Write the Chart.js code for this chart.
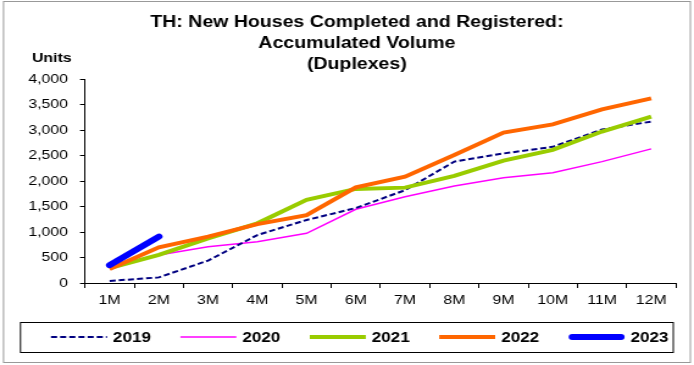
<!DOCTYPE html>
<html>
<head>
<meta charset="utf-8">
<script src="https://cdn.jsdelivr.net/npm/chart.js@4/dist/chart.umd.min.js"></script>
<style>
  html, body { margin: 0; padding: 0; background: #fff; overflow: hidden; }
  /* the drawing surface is laid out narrower and widened on screen */
  #c { display: block; width: 694px; height: 365px; }
</style>
</head>
<body>
<canvas id="c" width="569" height="365" style="width:694px;height:365px"></canvas>
<script>
// Months of the year (accumulated totals)
const months = ['1M','2M','3M','4M','5M','6M','7M','8M','9M','10M','11M','12M'];

// Accumulated duplex units by year
const y2019 = [40, 110, 440, 940, 1235, 1470, 1820, 2380, 2540, 2670, 3010, 3165];
const y2020 = [300, 550, 710, 810, 975, 1445, 1690, 1900, 2065, 2160, 2380, 2630];
const y2021 = [290, 550, 875, 1170, 1630, 1845, 1870, 2100, 2400, 2610, 2970, 3260];
const y2022 = [275, 700, 910, 1155, 1330, 1875, 2085, 2510, 2950, 3110, 3405, 3620];
const y2023 = [350, 910];

const yTicks = [0, 500, 1000, 1500, 2000, 2500, 3000, 3500, 4000];

const titleLines = ['TH: New Houses Completed and Registered:', 'Accumulated Volume', '(Duplexes)'];
const yAxisTitle = 'Units';

const FONT = '"Liberation Sans", Arial, Helvetica, sans-serif';
const W = 569; // internal drawing width

// Frame, title, axis caption and boxed legend
const decorations = {
  id: 'decorations',
  afterDraw(chart) {
    const ctx = chart.ctx;
    ctx.save();
    // outer frame
    ctx.strokeStyle = '#999999';
    ctx.lineWidth = 1;
    ctx.strokeRect(2.9, 1.5, 563.1, 361);

    // title
    ctx.fillStyle = '#000';
    ctx.font = 'bold 16px ' + FONT;
    ctx.textAlign = 'center';
    ctx.textBaseline = 'alphabetic';
    const ty = [27, 48, 69];
    titleLines.forEach((t, i) => ctx.fillText(t, 292.6, ty[i]));

    // axis caption
    ctx.font = 'bold 13px ' + FONT;
    ctx.textAlign = 'left';
    ctx.fillText(yAxisTitle, 26.2, 62);

    // legend box
    ctx.strokeStyle = '#000';
    ctx.lineWidth = 1;
    ctx.strokeRect(16.8, 322.5, 535.2, 30);
    const ly = 337;
    chart.data.datasets.forEach((ds, i) => {
      const x0 = 41.8 + 106.1 * i;
      ctx.save();
      ctx.strokeStyle = ds.borderColor;
      ctx.lineWidth = ds.borderWidth;
      ctx.lineCap = ds.borderCapStyle || 'butt';
      ctx.setLineDash(ds.borderDash || []);
      const inset = ds.borderCapStyle === 'round' ? ds.borderWidth / 2 : 0;
      ctx.beginPath();
      ctx.moveTo(x0 + inset, ly);
      ctx.lineTo(x0 + 45.9 - inset, ly);
      ctx.stroke();
      ctx.restore();
      ctx.fillStyle = '#000';
      ctx.font = 'bold 14px ' + FONT;
      ctx.textAlign = 'left';
      ctx.textBaseline = 'middle';
      ctx.fillText(ds.label, x0 + 50.8, ly + 1);
    });
    ctx.restore();
  }
};

new Chart(document.getElementById('c'), {
  type: 'line',
  data: {
    labels: months,
    datasets: [
      { label: '2019', data: y2019, borderColor: '#000080', borderWidth: 2, borderDash: [5, 2.5], order: 3 },
      { label: '2020', data: y2020, borderColor: '#FF00FF', borderWidth: 1.5, order: 4 },
      { label: '2021', data: y2021, borderColor: '#99CC00', borderWidth: 4, order: 2 },
      { label: '2022', data: y2022, borderColor: '#FF6600', borderWidth: 4, order: 1 },
      { label: '2023', data: y2023, borderColor: '#0000FF', borderWidth: 6, borderCapStyle: 'round', order: 0 }
    ]
  },
  options: {
    responsive: false,
    animation: false,
    devicePixelRatio: 1,
    layout: { padding: { top: 79, left: 0, right: W - 554.1, bottom: 52 } },
    elements: {
      point: { radius: 0, hoverRadius: 0 },
      line: { tension: 0, fill: false }
    },
    plugins: {
      legend: { display: false },
      title: { display: false },
      tooltip: { enabled: false }
    },
    scales: {
      x: {
        type: 'category',
        offset: true,
        afterFit(s) { s.height = 30; },
        grid: { display: true, drawOnChartArea: false, drawTicks: true, tickLength: 5, color: '#000', offset: true },
        border: { display: true, color: '#000', width: 1 },
        ticks: { color: '#000', font: { family: FONT, size: 13 }, padding: 5, maxRotation: 0, autoSkip: false }
      },
      y: {
        min: 0,
        max: 4000,
        afterFit(s) { s.width = 69.7; },
        afterBuildTicks(s) { s.ticks = yTicks.map(v => ({ value: v })); },
        grid: { display: true, drawOnChartArea: false, drawTicks: true, tickLength: 4.1, color: '#000' },
        border: { display: true, color: '#000', width: 1 },
        ticks: {
          color: '#000',
          font: { family: FONT, size: 13 },
          padding: 9.8,
          callback: v => v.toLocaleString('en-US')
        }
      }
    }
  },
  plugins: [decorations]
});
</script>
</body>
</html>
